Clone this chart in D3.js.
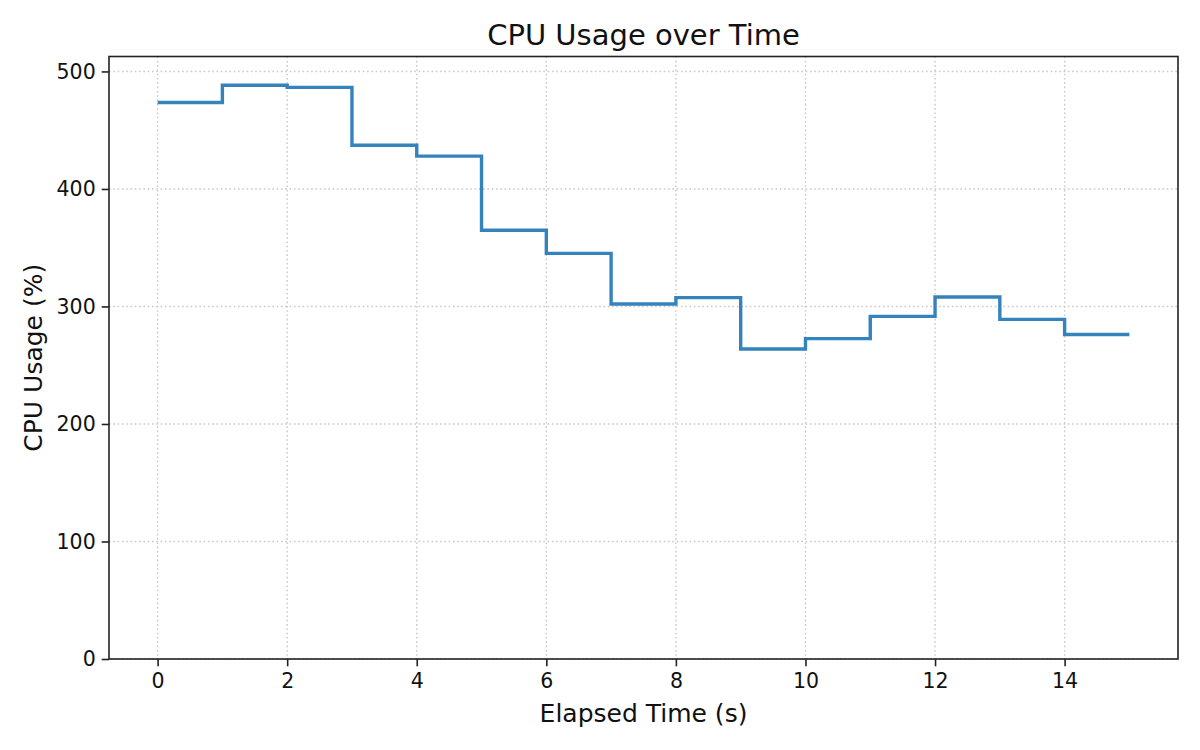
<!DOCTYPE html>
<html>
<head>
<meta charset="utf-8">
<script src="https://cdn.jsdelivr.net/npm/d3@7"></script>
<style>
  html, body { margin: 0; padding: 0; background: #fff; }
  svg { display: block; font-family: "DejaVu Sans", sans-serif; }
</style>
</head>
<body>
<div id="chart"></div>
<script>
// sampled once per second
const elapsed = [0, 1, 2, 3, 4, 5, 6, 7, 8, 9, 10, 11, 12, 13, 14, 15];
const cpuUsage = [473.6, 488.3, 486.4, 437.2, 427.9, 364.8, 345.2, 302.1,
                  307.5, 263.8, 272.6, 291.6, 308.0, 289.0, 276.2, 276.2];
const xTicks = [0, 2, 4, 6, 8, 10, 12, 14];
const yTicks = [0, 100, 200, 300, 400, 500];

const width = 1200, height = 750;
const margin = { top: 56.5, right: 22, bottom: 91, left: 109 };

const svg = d3.select('#chart').append('svg')
	.attr('width', width)
	.attr('height', height);

const xSpan = d3.max(elapsed) - d3.min(elapsed);
const x = d3.scaleLinear()
	.domain([d3.min(elapsed) - xSpan * 0.05, d3.max(elapsed) + xSpan * 0.05])
	.range([margin.left, width - margin.right]);

const y = d3.scaleLinear()
	.domain([0, d3.max(cpuUsage) * 1.05])
	.range([height - margin.bottom, margin.top]);

const plot = svg.append('g');

// grid
plot.append('g')
	.selectAll('line.gx')
	.data(xTicks)
	.join('line')
	.attr('x1', (d) => x(d)).attr('x2', (d) => x(d))
	.attr('y1', margin.top).attr('y2', height - margin.bottom)
	.attr('stroke', '#c8c8c8')
	.attr('stroke-width', 1.4)
	.attr('stroke-dasharray', '1.6,2.7');

plot.append('g')
	.selectAll('line.gy')
	.data(yTicks)
	.join('line')
	.attr('x1', margin.left).attr('x2', width - margin.right)
	.attr('y1', (d) => y(d)).attr('y2', (d) => y(d))
	.attr('stroke', '#c8c8c8')
	.attr('stroke-width', 1.4)
	.attr('stroke-dasharray', '1.6,2.7');

// step line
const stepLine = d3.line()
	.x((d, i) => x(elapsed[i]))
	.y((d) => y(d))
	.curve(d3.curveStepAfter);

plot.append('path')
	.datum(cpuUsage)
	.attr('d', stepLine)
	.attr('fill', 'none')
	.attr('stroke', '#3483bd')
	.attr('stroke-width', 3.4);

// axes
const xAxis = svg.append('g')
	.attr('transform', `translate(0,${height - margin.bottom})`)
	.call(d3.axisBottom(x).tickValues(xTicks).tickSize(7.3).tickPadding(6).tickSizeOuter(0));

const yAxis = svg.append('g')
	.attr('transform', `translate(${margin.left},0)`)
	.call(d3.axisLeft(y).tickValues(yTicks).tickSize(7.3).tickPadding(6).tickSizeOuter(0));

[xAxis, yAxis].forEach(($a) => {
	$a.select('.domain').remove();
	$a.selectAll('.tick line').attr('stroke', '#222').attr('stroke-width', 1.6);
	$a.selectAll('.tick text')
		.attr('fill', '#111')
		.style('font-size', '20.5px')
		.style('font-family', '"DejaVu Sans", sans-serif');
});
xAxis.selectAll('.tick text').attr('dy', '0.78em');

// frame
svg.append('rect')
	.attr('x', margin.left).attr('y', margin.top)
	.attr('width', width - margin.left - margin.right)
	.attr('height', height - margin.top - margin.bottom)
	.attr('fill', 'none')
	.attr('stroke', '#222')
	.attr('stroke-width', 1.6);

// labels
svg.append('text')
	.attr('x', (margin.left + width - margin.right) / 2)
	.attr('y', 45)
	.attr('text-anchor', 'middle')
	.style('font-size', '29px')
	.attr('fill', '#111')
	.text('CPU Usage over Time');

svg.append('text')
	.attr('x', (margin.left + width - margin.right) / 2)
	.attr('y', 722)
	.attr('text-anchor', 'middle')
	.style('font-size', '25px')
	.attr('fill', '#111')
	.text('Elapsed Time (s)');

svg.append('text')
	.attr('transform', `translate(42,${(margin.top + height - margin.bottom) / 2}) rotate(-90)`)
	.attr('text-anchor', 'middle')
	.style('font-size', '25px')
	.attr('fill', '#111')
	.text('CPU Usage (%)');
</script>
</body>
</html>
